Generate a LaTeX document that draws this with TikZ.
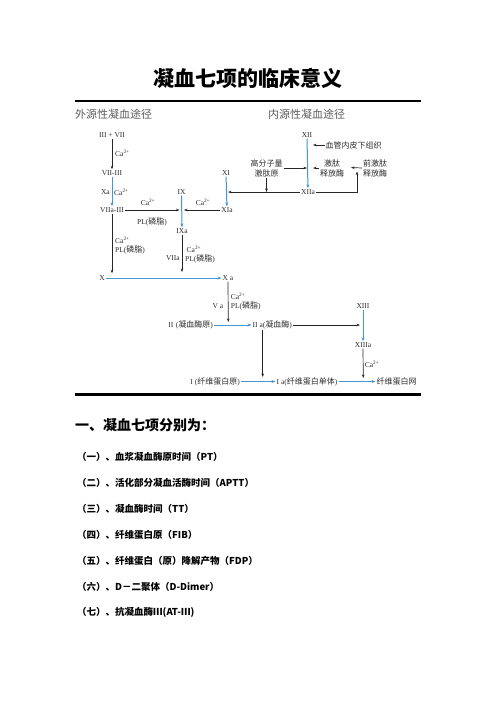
\documentclass[tikz,border=0pt]{standalone}
\usepackage{fontspec}
\setmainfont{Liberation Serif}
\newfontfamily\cjk{Noto Sans CJK SC}
\usetikzlibrary{arrows.meta}
\definecolor{txt}{RGB}{45,45,45}
\definecolor{hdrc}{RGB}{95,95,95}
\definecolor{bl}{RGB}{70,150,210}
\newcommand{\zh}[1]{{\cjk\fontsize{8}{10}\selectfont #1}}
\newcommand{\caa}{Ca\textsuperscript{2+}}
\tikzset{
  lab/.style={inner sep=1pt, text=txt, font=\fontsize{7.5}{9}\selectfont},
  zhlab/.style={inner sep=1pt, text=txt, font=\cjk\fontsize{8}{10}\selectfont, align=center},
  hdr/.style={inner sep=0pt, text=hdrc, font=\cjk\fontsize{11}{13}\selectfont},
  item/.style={anchor=west, inner sep=0pt, font=\cjk\bfseries\fontsize{9.5}{11}\selectfont},
  ar/.style={draw=black!85, line width=0.7pt, -{Stealth[length=3.5pt,width=2.6pt]}},
  bar/.style={draw=bl, line width=1pt, -{Stealth[length=4pt,width=3pt]}},
  rulebar/.style={line width=#1, black}
}
\begin{document}
\begin{tikzpicture}[x=1pt,y=-1pt]
\fill[white] (0,0) rectangle (496,702);
\useasboundingbox (0,0) rectangle (496,702);

% title and rules
\node[font=\cjk\bfseries\fontsize{21}{24}\selectfont] (title) at (248,78) {凝血七项的临床意义};
\draw[rulebar=1.8pt] (75,101) -- (421,101);
\draw[rulebar=2.6pt] (75,394.3) -- (421,394.3);
\node[hdr, anchor=west] (hExt) at (75,114.5) {外源性凝血途径};
\node[hdr, anchor=west] (hInt) at (268,114.5) {内源性凝血途径};

% main nodes
\node[lab] (n37) at (112,135) {III + VII};
\node[lab] (n73) at (112,173) {VII-III};
\node[lab] (n7a3) at (112,210) {VIIa-III};
\node[lab] (nIX) at (181.5,192) {IX};
\node[lab] (nIXa) at (182,231) {IXa};
\node[lab] (nXI) at (226,173) {XI};
\node[lab] (nXIa) at (227,210) {XIa};
\node[lab] (nXII) at (307,135) {XII};
\node[lab] (nXIIa) at (308,192) {XIIa};
\node[zhlab] (nHK) at (266.5,168) {高分子量\\激肽原};
\node[zhlab] (nKal) at (332,168) {激肽\\释放酶};
\node[zhlab] (nPK) at (375,168) {前激肽\\释放酶};
\node[zhlab, anchor=west] (nSub) at (324.5,145) {血管内皮下组织};
\node[lab] (nX) at (102,278) {X};
\node[lab] (nXa) at (228,278) {X a};
\node[lab, anchor=east] (nII) at (214,325) {II\,\,(\zh{凝血酶原})};
\node[lab, anchor=west] (nIIa) at (251.5,325) {II a(\zh{凝血酶})};
\node[lab] (nXIII) at (363,306) {XIII};
\node[lab] (nXIIIa) at (363,345) {XIIIa};
\node[lab, anchor=east] (nI) at (241,381.5) {I (\zh{纤维蛋白原})};
\node[lab, anchor=west] (nIa) at (275.5,381.5) {I a(\zh{纤维蛋白单体})};
\node[zhlab, anchor=west] (nNet) at (375.5,381.5) {纤维蛋白网};

% labels
\node[lab, anchor=west] (lCa1) at (114,153) {\caa};
\node[lab, anchor=east] (lXa) at (111,192) {Xa};
\node[lab, anchor=west] (lCa2) at (113,192) {\caa};
\node[lab] (lCa3) at (148,202) {\caa};
\node[lab] (lCa4) at (203,202) {\caa};
\node[lab] (lPL1) at (152,222) {PL(\zh{磷脂})};
\node[lab, anchor=west] (lCa5) at (114,240) {\caa};
\node[lab, anchor=west] (lPL2) at (114,249.5) {PL(\zh{磷脂})};
\node[lab, anchor=west] (lCa6) at (185.5,249.5) {\caa};
\node[lab, anchor=west] (lPL3) at (184,258.5) {PL(\zh{磷脂})};
\node[lab, anchor=east] (lVIIa) at (181,258.5) {VIIa};
\node[lab, anchor=west] (lCa7) at (229.7,296.5) {\caa};
\node[lab, anchor=west] (lPL4) at (229.7,306) {PL(\zh{磷脂})};
\node[lab, anchor=east] (lVa) at (224.5,306) {V a};
\node[lab] (lCa8) at (372,364) {\caa};

% coordinates for free ends
\coordinate (cL) at (179.5,210);
\coordinate (cR) at (184,210);
\coordinate (cXI) at (228,192);
\coordinate (cSub) at (313,145);
\coordinate (cPKt) at (351,167.5);
\coordinate (cPK) at (357,171.5);
\coordinate (cX) at (112,273.3);
\coordinate (cIXa) at (182,272);
\coordinate (cXa) at (228.3,322);
\coordinate (cIIa) at (360,325);
\coordinate (cIIt) at (262.7,330);
\coordinate (cIIb) at (262.7,377);
\coordinate (cXIIIa) at (363.3,378);

% connectors
\draw[ar] (n37) -- (n73);
\draw[bar] (n73) -- (n7a3);
\draw[ar] (n7a3.east) -- (cL);
\draw[ar] (nXIa.west) -- (cR);
\draw[bar] (nIX) -- (nIXa);
\draw[bar] (nXI) -- (nXIa);
\draw[ar] (nXIIa.west) -- (cXI);
\draw[ar] (nHK.south) -- (nHK.south |- nXIIa.west);
\draw[ar] (nHK.east) -- (nHK.east -| nXII);
\draw[bar] (nXII) -- (nXIIa);
\draw[ar] (nSub.west) -- (cSub);
\draw[ar] (nKal.west) -- (nKal.west -| cSub);
\draw[ar] (nPK.west) -- (cPKt);
\draw[ar] (nXIIa.east) -| (cPK);
\draw[ar] (n7a3.south) -- (cX);
\draw[ar] (nIXa) -- (cIXa);
\draw[bar] (nX) -- (nXa);
\draw[ar] (nXa.south) -- (cXa);
\draw[bar] (nII) -- (nIIa);
\draw[ar] (nIIa.east) -- (cIIa);
\draw[bar] (nXIII) -- (nXIIIa);
\draw[ar] (cIIt) -- (cIIb);
\draw[ar] (nXIIIa.south) -- (cXIIIa);
\draw[bar] (nI) -- (nIa);
\draw[bar] (nIa) -- (nNet);

% lower text
\node[anchor=west, inner sep=0pt, font=\cjk\bfseries\fontsize{14}{16}\selectfont] (sec) at (75,425) {一、凝血七项分别为：};
\node[item] (i1) at (77,456.7) {（一）、血浆凝血酶原时间（PT）};
\node[item] (i2) at (77,482.7) {（二）、活化部分凝血活酶时间（APTT）};
\node[item] (i3) at (77,509) {（三）、凝血酶时间（TT）};
\node[item] (i4) at (77,535) {（四）、纤维蛋白原（FIB）};
\node[item] (i5) at (77,560.7) {（五）、纤维蛋白（原）降解产物（FDP）};
\node[item] (i6) at (77,586.7) {（六）、D－二聚体（D-Dimer）};
\node[item] (i7) at (77,612.7) {（七）、抗凝血酶Ⅲ(AT-Ⅲ)};
\end{tikzpicture}
\end{document}
